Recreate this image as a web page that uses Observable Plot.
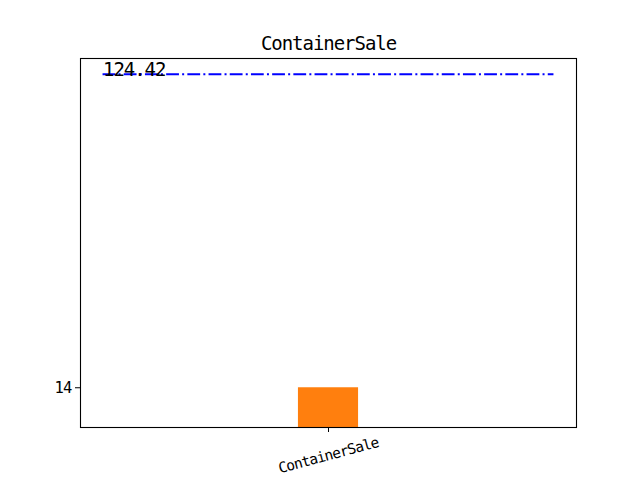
<!DOCTYPE html>
<html>
<head>
<meta charset="utf-8">
<script src="https://cdn.jsdelivr.net/npm/d3@7"></script>
<script src="https://cdn.jsdelivr.net/npm/@observablehq/plot@0.6"></script>
<style>
  html, body { margin: 0; padding: 0; background: #fff; }
  #chart svg text { letter-spacing: -0.055em; }
</style>
</head>
<body>
<div id="chart"></div>
<script>
const title = "ContainerSale";
const categories = ["ContainerSale"];
const values = [14];
const refValue = 124.42;
const refLabel = "124.42";
const yTicks = [14];

const FONT = "'DejaVu Sans Mono', 'Liberation Mono', monospace";
const barW = 0.2;
const lineSpan = 0.75;

const chart = Plot.plot({
  width: 640,
  height: 480,
  marginLeft: 80,
  marginRight: 64,
  marginTop: 58,
  marginBottom: 53,
  style: { fontFamily: FONT, background: "#fff" },
  x: { type: "linear", domain: [-0.825, 0.825] },
  y: { type: "linear", domain: [0, 130] },
  marks: [
    Plot.rectY(values, {
      x1: (d, i) => i - barW / 2,
      x2: (d, i) => i + barW / 2,
      y1: () => 0,
      y2: d => d,
      fill: "#ff7f0e"
    }),
    Plot.ruleY([refValue], {
      x1: () => -lineSpan,
      x2: () => lineSpan,
      y: d => d,
      stroke: "#0000ff",
      strokeWidth: 2,
      strokeDasharray: "12.8,3.2,2,3.2"
    }),
    Plot.text([refValue], {
      x: () => -lineSpan,
      y: d => d,
      text: () => refLabel,
      textAnchor: "start",
      lineAnchor: "bottom",
      dy: 2,
      fontSize: 19,
      fill: "#000"
    }),
    Plot.frame({ stroke: "#000", strokeWidth: 1.1 }),
    Plot.axisY({
      ticks: yTicks,
      tickSize: 5,
      tickFormat: () => "",
      label: null,
      color: "#000"
    }),
    Plot.text(yTicks, {
      y: d => d,
      frameAnchor: "left",
      text: d => String(d),
      textAnchor: "end",
      dx: -9,
      fontSize: 15.5,
      fill: "#000"
    }),
    Plot.axisX({
      ticks: categories.map((d, i) => i),
      tickFormat: () => "",
      tickSize: 5,
      label: null,
      color: "#000"
    }),
    Plot.text(categories, {
      x: (d, i) => i,
      frameAnchor: "bottom",
      text: d => d,
      rotate: -15,
      textAnchor: "middle",
      lineAnchor: "middle",
      dy: 28,
      fontSize: 14.5,
      fill: "#000"
    }),
    Plot.text([title], {
      frameAnchor: "top",
      text: d => d,
      lineAnchor: "bottom",
      dy: -9,
      fontSize: 19,
      fill: "#000"
    })
  ]
});
document.getElementById("chart").appendChild(chart);
</script>
</body>
</html>
